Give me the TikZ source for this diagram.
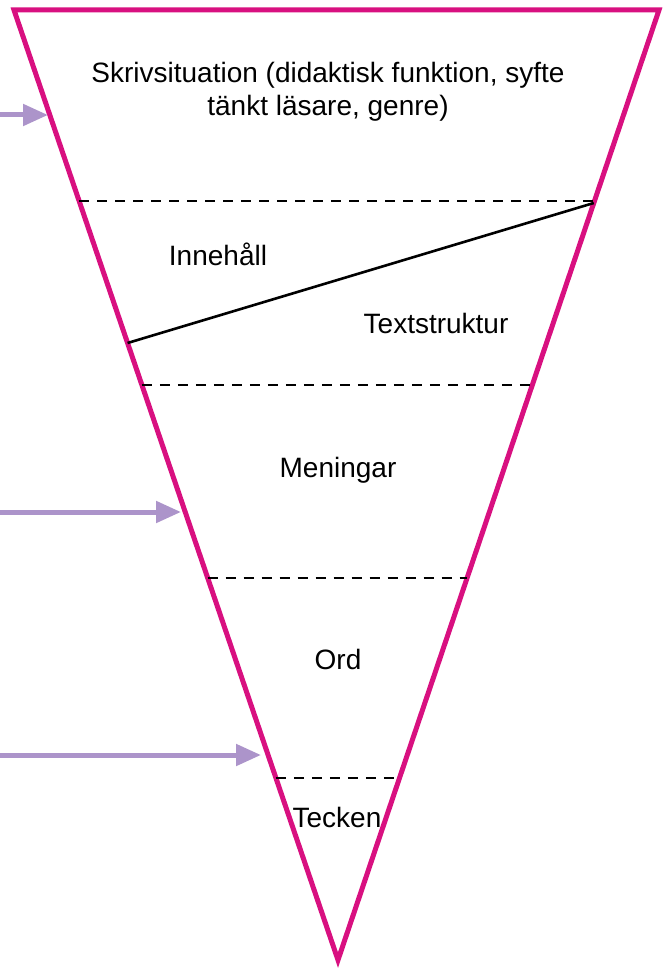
\documentclass[tikz,border=0pt]{standalone}
\usepackage{fontspec}
\setmainfont{Liberation Sans}
\usepackage{xcolor}
\usetikzlibrary{arrows.meta, positioning, calc}

\definecolor{funnel}{RGB}{216,16,128}
\definecolor{pointer}{RGB}{172,148,202}

\tikzset{
    level/.style={font=\fontsize{28}{33}\selectfont, align=center, inner sep=0pt},
    divider/.style={dash pattern=on 10pt off 8pt, line width=2.6pt},
    pointer/.style={-{Triangle[length=25pt,width=21pt]}, line width=5pt, draw=pointer}
}

\begin{document}
\begin{tikzpicture}[x=1pt, y=-1pt]
    \useasboundingbox (0,0) rectangle (662,968);
    \coordinate (tl) at (14,10);
    \coordinate (tr) at (659,10);
    \coordinate (bot) at (338,960);
    \draw[funnel, line width=5pt] (tl) -- (tr) -- (bot) -- cycle;
    % levels
    \foreach \y in {201, 385, 578, 778}
        \draw[divider] ($(tl)!{(\y-10)/950}!(bot)$) -- ($(tr)!{(\y-10)/950}!(bot)$);
    \draw[line width=2.6pt] ($(tl)!{333/950}!(bot)$) -- ($(tr)!{193/950}!(bot)$);
    \node[level] (situation) at (328,92) {Skrivsituation (didaktisk funktion, syfte\\tänkt läsare, genre)};
    \node[level, anchor=base] (content) at (218,265) {Innehåll};
    \node[level, anchor=base] (structure) at (436,333) {Textstruktur};
    \node[level, anchor=base] (sentences) at (338,477) {Meningar};
    \node[level, anchor=base] (words) at (338,669) {Ord};
    \node[level, anchor=base] (signs) at (337,827) {Tecken};
    % arrows
    \coordinate (src1) at (0,115);
    \coordinate (tip1) at (48,115);
    \coordinate (src2) at (0,512);
    \coordinate (tip2) at (181,512);
    \coordinate (src3) at (0,755);
    \coordinate (tip3) at (261,755);
    \draw[pointer] (src1) -- (tip1);
    \draw[pointer] (src2) -- (tip2);
    \draw[pointer] (src3) -- (tip3);
\end{tikzpicture}
\end{document}
